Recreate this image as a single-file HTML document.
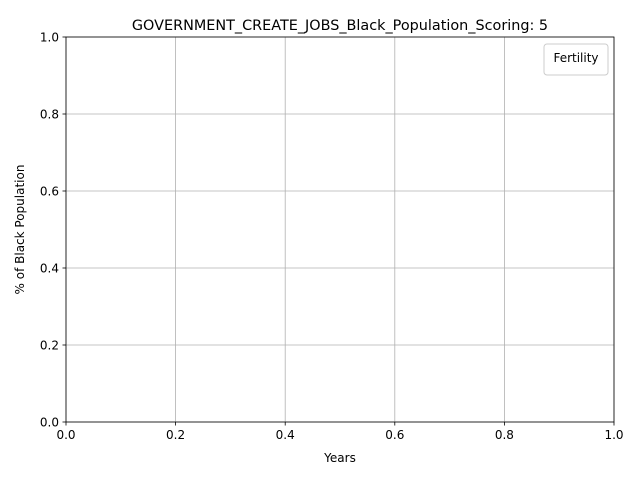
<!DOCTYPE html>
<html>
<head>
<meta charset="utf-8">
<style>
  html,body{margin:0;padding:0;background:#fff;}
  svg{display:block;font-family:"DejaVu Sans","Liberation Sans",sans-serif;}
</style>
</head>
<body>
<svg id="chart" width="640" height="480" viewBox="0 0 640 480"></svg>
<script>
const xTicks = [0.0, 0.2, 0.4, 0.6, 0.8, 1.0];
const yTicks = [0.0, 0.2, 0.4, 0.6, 0.8, 1.0];
const xDomain = [0, 1];
const yDomain = [0, 1];
const seriesNames = [];
const seriesValues = [];

const L = 66, R = 614, T = 37, B = 422;
const NS = "http://www.w3.org/2000/svg";
const svg = document.getElementById('chart');
function xs(v){ return L + (v - xDomain[0]) / (xDomain[1] - xDomain[0]) * (R - L); }
function ys(v){ return B - (v - yDomain[0]) / (yDomain[1] - yDomain[0]) * (B - T); }
function mk(tag, attrs, parent){
  const e = document.createElementNS(NS, tag);
  for (const k in attrs) e.setAttribute(k, attrs[k]);
  (parent || svg).appendChild(e);
  return e;
}

const grid = mk('g', {});


xTicks.forEach(v => {
  const l = mk('line', {x1: xs(v), x2: xs(v), y1: T, y2: B, stroke: '#b0b0b0', 'stroke-width': 0.8}, grid);
  
  
});
yTicks.forEach(v => {
  const l = mk('line', {x1: L, x2: R, y1: ys(v), y2: ys(v), stroke: '#b0b0b0', 'stroke-width': 0.8}, grid);
  
  
});

// series (none in reference)
seriesValues.forEach((vals, i) => {
  const pts = vals.map(p => xs(p[0]) + ',' + ys(p[1])).join(' ');
  const pl = mk('polyline', {points: pts, fill: 'none', stroke: '#1f77b4', 'stroke-width': 1.5});
  
  
});

const frame = mk('rect', {x: L, y: T, width: R - L, height: B - T, fill: 'none', stroke: '#000', 'stroke-width': 0.8});



const xAxis = mk('g', {});


xTicks.forEach(v => {
  mk('line', {x1: xs(v), x2: xs(v), y1: B, y2: B + 3.5, stroke: '#000', 'stroke-width': 0.8}, xAxis);
  const t = mk('text', {x: xs(v), y: B + 17, 'text-anchor': 'middle', 'font-size': 12, fill: '#000'}, xAxis);
  t.textContent = v.toFixed(1);
  
  
});
const yAxis = mk('g', {});


yTicks.forEach(v => {
  mk('line', {x1: L - 3.5, x2: L, y1: ys(v), y2: ys(v), stroke: '#000', 'stroke-width': 0.8}, yAxis);
  const t = mk('text', {x: L - 7, y: ys(v) + 4.5, 'text-anchor': 'end', 'font-size': 12, fill: '#000'}, yAxis);
  t.textContent = v.toFixed(1);
  
  
});

const xt = mk('text', {x: (L + R) / 2, y: 462, 'text-anchor': 'middle', 'font-size': 12});
xt.textContent = 'Years';



const yt = mk('text', {x: 24, y: (T + B) / 2, 'text-anchor': 'middle', 'font-size': 12, transform: 'rotate(-90 24 ' + (T + B) / 2 + ')'});
yt.textContent = '% of Black Population';



const title = mk('text', {x: (L + R) / 2, y: 30, 'text-anchor': 'middle', 'font-size': 14.4});
title.textContent = 'GOVERNMENT_CREATE_JOBS_Black_Population_Scoring: 5';



const legend = mk('g', {});


mk('rect', {x: 544, y: 44, width: 64, height: 31, rx: 3, fill: '#fff', 'fill-opacity': 0.8, stroke: '#cccccc', 'stroke-width': 1}, legend);
const lt = mk('text', {x: 576, y: 62, 'text-anchor': 'middle', 'font-size': 12}, legend);
lt.textContent = 'Fertility';


</script>
</body>
</html>
